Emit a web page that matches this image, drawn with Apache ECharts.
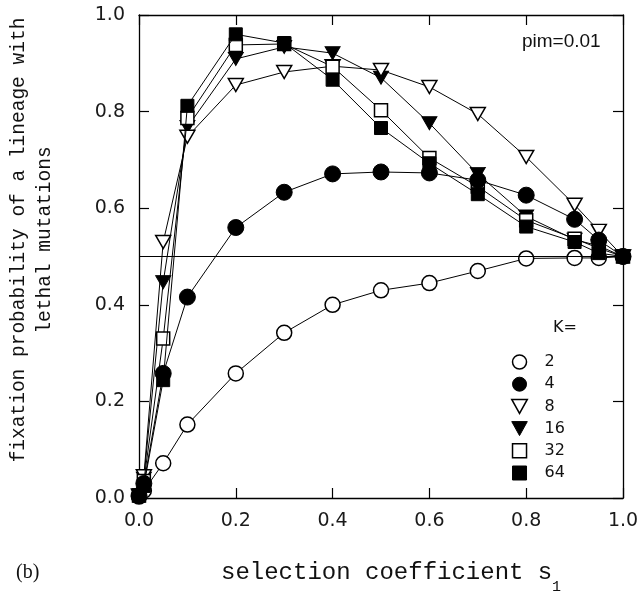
<!DOCTYPE html>
<html><head><meta charset="utf-8">
<script src="https://cdn.jsdelivr.net/npm/echarts@6/dist/echarts.min.js"></script>
<style>html,body{margin:0;padding:0;background:#fff}#c{width:643px;height:596px}</style>
</head><body><div id="c"></div>
<script>
// selection coefficient s1
const sValues = [0, 0.01, 0.05, 0.1, 0.2, 0.3, 0.4, 0.5, 0.6, 0.7, 0.8, 0.9, 0.95, 1.0];
// fixation probability for each K
const k2  = [0.003, 0.015, 0.072, 0.152, 0.258, 0.342, 0.400, 0.430, 0.445, 0.470, 0.496, 0.497, 0.497, 0.500];
const k4  = [0.005, 0.030, 0.258, 0.416, 0.560, 0.633, 0.671, 0.675, 0.673, 0.658, 0.627, 0.577, 0.534, 0.500];
const k8  = [0.005, 0.045, 0.530, 0.748, 0.855, 0.882, 0.894, 0.886, 0.851, 0.795, 0.706, 0.607, 0.553, 0.500];
const k16 = [0.005, 0.040, 0.447, 0.768, 0.909, 0.934, 0.921, 0.870, 0.776, 0.671, 0.583, 0.535, 0.522, 0.500];
const k32 = [0.005, 0.035, 0.330, 0.787, 0.938, 0.940, 0.893, 0.803, 0.704, 0.645, 0.575, 0.537, 0.517, 0.500];
const k64 = [0.005, 0.025, 0.244, 0.812, 0.960, 0.942, 0.866, 0.766, 0.693, 0.629, 0.562, 0.530, 0.507, 0.500];
const legendNames = ['2', '4', '8', '16', '32', '64'];
const refLine = 0.5;
const axisMin = 0, axisMax = 1, axisStep = 0.2;

const downTri = 'path://M0,0L10,0L5,9Z';
const square = 'path://M0,0L10,0L10,10L0,10Z';
const styles = {
  '2':  {symbol: 'circle', filled: false, size: 15, icon: 'circle'},
  '4':  {symbol: 'circle', filled: true,  size: 16, icon: 'circle'},
  '8':  {symbol: downTri,  filled: false, size: [15, 13], icon: downTri},
  '16': {symbol: downTri,  filled: true,  size: [15, 13], icon: downTri},
  '32': {symbol: 'rect',   filled: false, size: 13, icon: square},
  '64': {symbol: 'rect',   filled: true,  size: 13, icon: square}
};
const dataByName = {'2': k2, '4': k4, '8': k8, '16': k16, '32': k32, '64': k64};
const drawOrder = ['2', '16', '8', '32', '64', '4'];

function itemStyleFor(filled) {
  return filled ? {color: '#000', borderColor: '#000', borderWidth: 1}
                : {color: '#fff', borderColor: '#000', borderWidth: 1.5};
}

const series = drawOrder.map(function (name, idx) {
  const st = styles[name];
  const s = {
    name: name,
    type: 'line',
    data: sValues.map(function (x, i) { return [x, dataByName[name][i]]; }),
    symbol: st.symbol,
    symbolSize: st.size,
    symbolKeepAspect: false,
    showAllSymbol: true,
    lineStyle: {color: '#000', width: 1},
    itemStyle: itemStyleFor(st.filled),
    emphasis: {disabled: true},
    animation: false,
    z: 3 + idx
  };
  if (name === '2') {
    s.markLine = {
      silent: true, symbol: 'none', animation: false,
      label: {show: false},
      lineStyle: {color: '#000', width: 1.2, type: 'solid'},
      data: [{yAxis: refLine}]
    };
  }
  return s;
});

const tickFont = {fontFamily: 'DejaVu Sans', fontSize: 19, color: '#1a1a1a'};
function axisBase(extra) {
  return Object.assign({
    type: 'value', min: axisMin, max: axisMax, interval: axisStep,
    axisLine: {show: true, onZero: false, lineStyle: {color: '#000', width: 1.3}},
    axisTick: {show: true, inside: true, length: 10, lineStyle: {color: '#000', width: 1.2}},
    splitLine: {show: false}
  }, extra);
}

const chart = echarts.init(document.getElementById('c'), null, {renderer: 'canvas'});
chart.setOption({
  backgroundColor: '#fff',
  animation: false,
  grid: {left: 139, right: 20, top: 15, bottom: 98, containLabel: false, outerBoundsMode: 'none'},
  xAxis: [
    axisBase({position: 'bottom', axisLabel: Object.assign({margin: 14, formatter: function (v) { return v.toFixed(1); }}, tickFont)}),
    axisBase({position: 'top', axisLabel: {show: false}})
  ],
  yAxis: [
    axisBase({position: 'left', axisLabel: Object.assign({margin: 14, formatter: function (v) { return v.toFixed(1); }}, tickFont)}),
    axisBase({position: 'right', axisLabel: {show: false}})
  ],
  legend: {
    orient: 'vertical', left: 506, top: 349,
    itemWidth: 40, itemHeight: 14, itemGap: 6.2,
    selectedMode: false,
    symbolKeepAspect: true,
    textStyle: {fontFamily: 'DejaVu Sans', fontSize: 16, color: '#111'},
    data: legendNames.map(function (n) {
      const st = styles[n];
      return {name: n, icon: st.icon, itemStyle: itemStyleFor(st.filled)};
    })
  },
  graphic: [
    {type: 'text', left: 553, top: 320, style: {text: 'K=', font: '16px "DejaVu Sans"', fill: '#111'}},
    {type: 'text', left: 522, top: 32, style: {text: 'pim=0.01', font: '19px "Liberation Sans"', fill: '#111'}},
    {type: 'text', x: 16, y: 573, style: {text: '(b)', font: '20px "Liberation Serif"', fill: '#111', textVerticalAlign: 'middle'}},
    {type: 'text', x: 221, y: 573, style: {text: 'selection coefficient s', font: '24px "Liberation Mono"', fill: '#111', textVerticalAlign: 'middle'}},
    {type: 'text', x: 552, y: 587, style: {text: '1', font: '15px "Liberation Mono"', fill: '#111', textVerticalAlign: 'middle'}},
    {type: 'text', x: 19, y: 240, rotation: Math.PI / 2, style: {text: 'fixation probability of a lineage with', font: '19.5px "Liberation Mono"', fill: '#111', textAlign: 'center', textVerticalAlign: 'middle'}},
    {type: 'text', x: 45, y: 240, rotation: Math.PI / 2, style: {text: 'lethal mutations', font: '19.5px "Liberation Mono"', fill: '#111', textAlign: 'center', textVerticalAlign: 'middle'}}
  ],
  series: series
});
</script>
</body></html>
